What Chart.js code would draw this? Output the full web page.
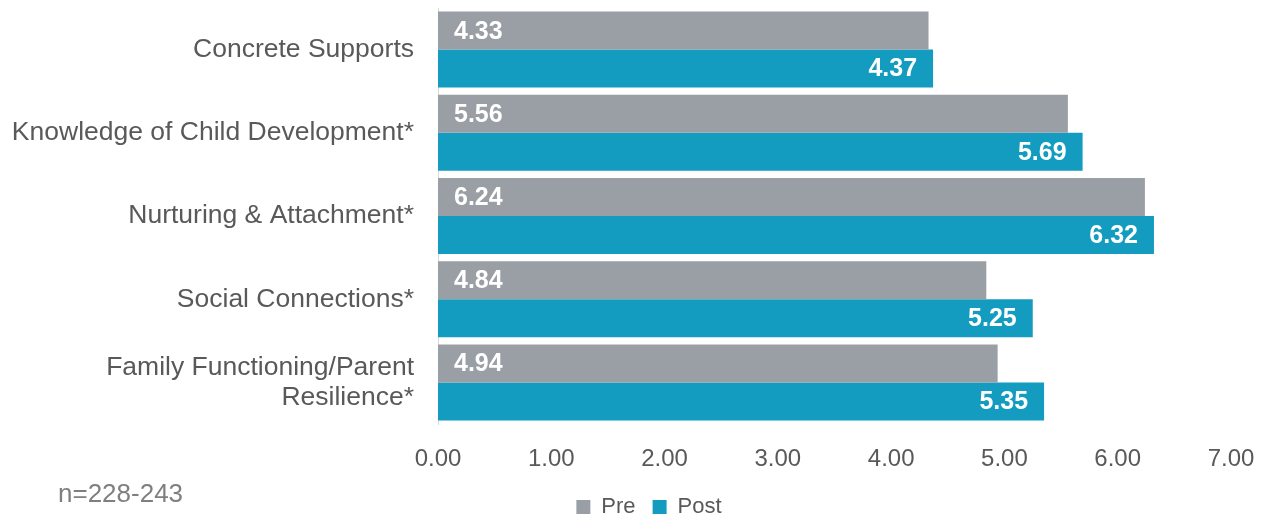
<!DOCTYPE html>
<html>
<head>
<meta charset="utf-8">
<script src="https://cdn.jsdelivr.net/npm/chart.js@4"></script>
<style>
  html, body { margin: 0; padding: 0; background: #fff; }
  #wrap { position: relative; width: 1265px; height: 517px; }
  #note {
    position: absolute; left: 58px; top: 478px;
    font: 26px "Liberation Sans", Arial, sans-serif; color: #7f7f7f;
  }
</style>
</head>
<body>
<div id="wrap">
  <canvas id="chart" width="1265" height="517"></canvas>
  <div id="note">n=228-243</div>
</div>
<script>
const categories = [
  'Concrete Supports',
  'Knowledge of Child Development*',
  'Nurturing & Attachment*',
  'Social Connections*',
  ['Family Functioning/Parent', 'Resilience*']
]
const preValues = [4.33, 5.56, 6.24, 4.84, 4.94]
const postValues = [4.37, 5.69, 6.32, 5.25, 5.35]
const xTicks = [0, 1, 2, 3, 4, 5, 6, 7]

const FONT = '"Liberation Sans", Arial, sans-serif'
const TEXT = '#595959'

// draws the white value labels inside the bars (pre at start, post at end)
const barLabels = {
  id: 'barLabels',
  afterDatasetsDraw(chart) {
    const ctx = chart.ctx
    ctx.save()
    ctx.fillStyle = '#fff'
    ctx.font = 'bold 25px ' + FONT
    ctx.textBaseline = 'middle'
    chart.data.datasets.forEach((ds, i) => {
      const meta = chart.getDatasetMeta(i)
      meta.data.forEach((bar, j) => {
        const txt = ds.data[j].toFixed(2)
        if (i === 0) {
          ctx.textAlign = 'left'
          ctx.fillText(txt, bar.base + 16, bar.y + 1)
        } else {
          ctx.textAlign = 'right'
          ctx.fillText(txt, bar.x - 16, bar.y + 1)
        }
      })
    })
    ctx.restore()
  }
}

// legend in the reference sits a bit right of the canvas centre
const legendShift = {
  id: 'legendShift',
  afterLayout(chart) {
    if (chart.legend) chart.legend.left += 33
  }
}

new Chart(document.getElementById('chart'), {
  type: 'bar',
  data: {
    labels: categories,
    datasets: [
      { label: 'Pre', data: preValues, backgroundColor: '#9a9ea5' },
      { label: 'Post', data: postValues, backgroundColor: '#139cc0' }
    ]
  },
  options: {
    indexAxis: 'y',
    responsive: false,
    animation: false,
    layout: { padding: { top: 8, right: 0, bottom: -11, left: 0 } },
    datasets: { bar: { categoryPercentage: 0.913, barPercentage: 1 } },
    plugins: {
      legend: {
        position: 'bottom',
        labels: {
          boxWidth: 14, boxHeight: 14, padding: 17,
          color: TEXT, font: { family: FONT, size: 22 }
        }
      },
      tooltip: { enabled: false }
    },
    scales: {
      x: {
        min: 0, max: 7,
        afterBuildTicks: (s) => { s.ticks = xTicks.map(v => ({ value: v })) },
        afterFit: (s) => {
          s.height = 55
          s.paddingLeft = 0
          s.paddingRight = 34
        },
        grid: { display: false },
        border: { display: false },
        ticks: {
          padding: 13,
          color: TEXT,
          font: { family: FONT, size: 24 },
          callback: (v) => Number(v).toFixed(2)
        }
      },
      y: {
        afterFit: (s) => {
          s.width = 438
          s.paddingTop = 0
          s.paddingBottom = 0
        },
        grid: { display: false, drawTicks: false },
        border: { display: true, color: '#d9d9d9', width: 1 },
        ticks: {
          padding: 24,
          color: TEXT,
          font: { family: FONT, size: 26.5, lineHeight: 1.13 }
        }
      }
    }
  },
  plugins: [barLabels, legendShift]
})
</script>
</body>
</html>
